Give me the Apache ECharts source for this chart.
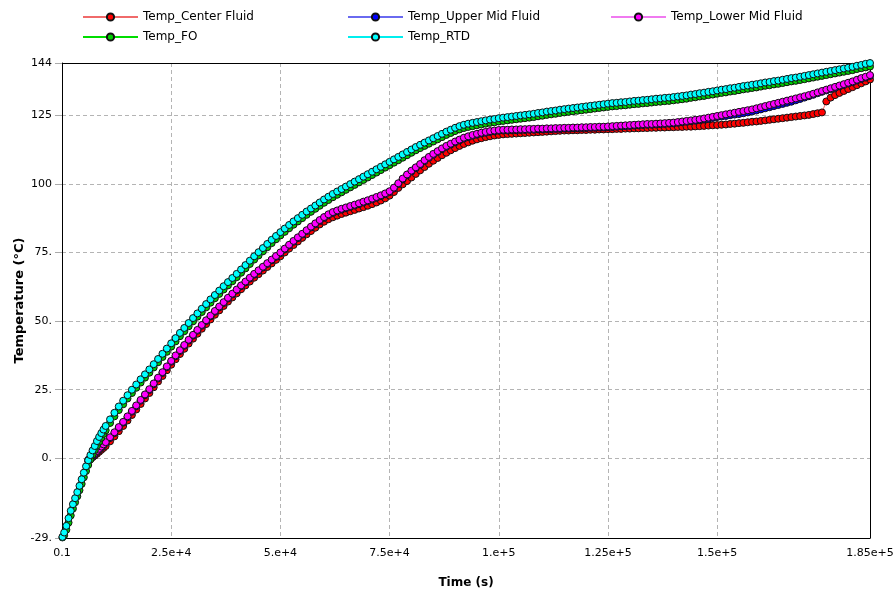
<!DOCTYPE html>
<html><head><meta charset="utf-8">
<script src="https://cdn.jsdelivr.net/npm/echarts@6/dist/echarts.min.js"></script>
<style>html,body{margin:0;padding:0;background:#fff}#c{width:896px;height:592px}</style>
</head><body><div id="c"></div>
<script>
const time = [100,500,1000,1500,2000,2500,3000,3500,4000,4500,5000,5500,6000,6500,7000,7500,8000,8500,9000,9500,10000,
11000,12000,13000,14000,15000,16000,17000,18000,19000,20000,
21000,22000,23000,24000,25000,26000,27000,28000,29000,30000,
31000,32000,33000,34000,35000,36000,37000,38000,39000,40000,
41000,42000,43000,44000,45000,46000,47000,48000,49000,50000,
51000,52000,53000,54000,55000,56000,57000,58000,59000,60000,
61000,62000,63000,64000,65000,66000,67000,68000,69000,70000,
71000,72000,73000,74000,75000,76000,77000,78000,79000,80000,
81000,82000,83000,84000,85000,86000,87000,88000,89000,90000,
91000,92000,93000,94000,95000,96000,97000,98000,99000,100000,
101000,102000,103000,104000,105000,106000,107000,108000,109000,110000,
111000,112000,113000,114000,115000,116000,117000,118000,119000,120000,
121000,122000,123000,124000,125000,126000,127000,128000,129000,130000,
131000,132000,133000,134000,135000,136000,137000,138000,139000,140000,
141000,142000,143000,144000,145000,146000,147000,148000,149000,150000,
151000,152000,153000,154000,155000,156000,157000,158000,159000,160000,
161000,162000,163000,164000,165000,166000,167000,168000,169000,170000,
171000,172000,173000,174000,175000,176000,177000,178000,179000,180000,
181000,182000,183000,184000,185000];

const tempCenterFluid = [null,null,null,null,null,null,null,null,null,null,null,null,-0.9,-0.3,0.4,1.0,1.7,2.4,3.1,3.8,4.5,
6.2,8.0,9.9,11.8,13.8,15.8,17.8,19.8,21.8,23.8,
25.9,28.0,30.0,32.1,34.1,36.1,38.0,39.9,41.8,43.6,
45.4,47.2,48.9,50.6,52.3,53.9,55.5,57.1,58.6,60.1,
61.6,63.0,64.4,65.8,67.1,68.4,69.7,71.0,72.3,73.6,
75.0,76.4,77.7,79.0,80.3,81.6,82.8,84.0,85.2,86.2,
87.1,87.8,88.4,89.0,89.5,90.0,90.5,91.0,91.5,92.0,
92.6,93.2,93.9,94.7,95.7,97.0,98.5,99.8,101.0,102.3,
103.6,104.9,106.1,107.3,108.4,109.4,110.4,111.3,112.2,113.0,
113.8,114.5,115.1,115.7,116.2,116.6,117.0,117.3,117.6,117.8,
118.0,118.1,118.2,118.3,118.4,118.5,118.6,118.7,118.8,118.9,
119.0,119.1,119.2,119.3,119.4,119.4,119.5,119.5,119.6,119.6,
119.7,119.7,119.8,119.8,119.9,119.9,120.0,120.0,120.1,120.1,
120.2,120.2,120.3,120.3,120.4,120.4,120.5,120.5,120.6,120.6,
120.7,120.7,120.8,120.8,120.9,121.0,121.1,121.2,121.3,121.4,
121.5,121.6,121.8,121.9,122.1,122.2,122.4,122.6,122.7,122.9,
123.1,123.3,123.5,123.7,123.9,124.1,124.3,124.5,124.7,124.9,
125.1,125.4,125.7,126.0,130.0,131.4,132.3,133.1,133.8,134.5,
135.2,135.9,136.6,137.3,138.0];

const tempUpperMidFluid = [null,null,null,null,null,null,null,null,null,null,null,null,-0.8,0.0,0.8,1.6,2.4,3.2,4.0,4.8,5.6,
7.4,9.2,11.1,13.0,15.0,17.0,19.0,21.0,23.0,24.9,
27.0,29.1,31.1,33.2,35.2,37.2,39.1,41.0,42.9,44.7,
46.5,48.3,50.0,51.7,53.4,55.0,56.6,58.2,59.7,61.2,
62.7,64.1,65.5,66.9,68.2,69.5,70.8,72.1,73.4,74.7,
76.1,77.5,78.9,80.2,81.5,82.8,84.1,85.3,86.5,87.6,
88.6,89.4,90.0,90.6,91.1,91.6,92.1,92.6,93.2,93.7,
94.3,94.9,95.5,96.2,97.0,98.3,99.9,101.6,103.1,104.5,
105.7,106.9,108.3,109.5,110.6,111.6,112.6,113.5,114.3,115.1,
115.8,116.5,117.0,117.5,117.9,118.3,118.6,118.9,119.1,119.3,
119.4,119.4,119.5,119.5,119.6,119.6,119.7,119.7,119.8,119.8,
119.9,119.9,120.0,120.0,120.1,120.1,120.2,120.2,120.3,120.3,
120.4,120.4,120.5,120.5,120.6,120.7,120.8,120.9,121.0,121.1,
121.2,121.3,121.4,121.5,121.5,121.6,121.7,121.8,121.9,122.0,
122.2,122.4,122.6,122.8,123.0,123.2,123.4,123.7,124.0,124.3,
124.5,124.7,125.0,125.2,125.4,125.7,126.0,126.3,126.7,127.1,
127.5,127.9,128.3,128.7,129.1,129.5,129.9,130.4,130.9,131.4,
131.9,132.4,133.0,133.5,134.0,134.5,135.0,135.5,136.0,136.5,
137.0,137.6,138.2,138.7,139.3];

const tempLowerMidFluid = [null,null,null,null,null,null,null,null,null,null,null,null,-0.5,0.3,1.1,1.9,2.7,3.5,4.3,5.1,5.9,
7.7,9.5,11.4,13.3,15.3,17.3,19.3,21.3,23.3,25.2,
27.3,29.4,31.4,33.5,35.5,37.5,39.4,41.3,43.2,45.0,
46.8,48.6,50.3,52.0,53.7,55.3,56.9,58.5,60.0,61.5,
63.0,64.4,65.8,67.2,68.5,69.8,71.1,72.4,73.7,75.0,
76.4,77.8,79.2,80.5,81.8,83.1,84.4,85.6,86.8,87.9,
88.9,89.7,90.3,90.9,91.4,91.9,92.4,92.9,93.5,94.0,
94.6,95.2,95.8,96.5,97.3,98.6,100.2,101.9,103.4,104.8,
106.0,107.2,108.6,109.8,110.9,111.9,112.9,113.8,114.6,115.4,
116.1,116.8,117.3,117.8,118.2,118.6,118.9,119.2,119.4,119.6,
119.7,119.7,119.8,119.8,119.9,119.9,120.0,120.0,120.1,120.1,
120.2,120.2,120.3,120.3,120.4,120.4,120.5,120.5,120.6,120.6,
120.7,120.7,120.8,120.8,120.9,121.0,121.1,121.2,121.3,121.4,
121.5,121.6,121.7,121.8,121.8,121.9,122.0,122.1,122.2,122.3,
122.5,122.7,122.9,123.1,123.3,123.5,123.8,124.1,124.4,124.7,
125.0,125.3,125.6,125.9,126.2,126.5,126.8,127.1,127.5,127.9,
128.3,128.7,129.1,129.5,129.9,130.3,130.7,131.1,131.5,131.9,
132.3,132.8,133.3,133.8,134.3,134.8,135.3,135.8,136.3,136.8,
137.3,137.9,138.5,139.0,139.6];

const tempFO = [-28.8,-28.0,-26.0,-23.4,-20.8,-18.3,-16.0,-13.8,-11.6,-9.3,-6.9,-4.6,-2.4,-0.4,1.4,3.0,4.6,6.1,7.5,8.9,10.2,
12.9,15.3,17.6,19.7,21.8,23.8,25.7,27.6,29.4,31.2,
33.1,35.0,36.9,38.8,40.7,42.6,44.5,46.3,48.1,49.9,
51.6,53.3,55.0,56.7,58.3,59.9,61.5,63.0,64.5,66.0,
67.6,69.2,70.8,72.4,73.9,75.4,76.9,78.4,79.8,81.2,
82.5,83.8,85.1,86.3,87.5,88.7,89.8,90.9,92.0,93.1,
94.1,95.1,96.0,96.9,97.8,98.7,99.6,100.5,101.4,102.3,
103.2,104.1,105.0,105.9,106.8,107.7,108.6,109.5,110.4,111.3,
112.2,113.0,113.8,114.6,115.4,116.2,117.0,117.8,118.5,119.2,
119.8,120.3,120.7,121.0,121.3,121.6,121.9,122.2,122.4,122.7,
122.9,123.1,123.3,123.5,123.7,123.9,124.1,124.3,124.6,124.8,
125.1,125.3,125.5,125.8,126.0,126.2,126.4,126.6,126.8,127.0,
127.2,127.4,127.6,127.8,128.0,128.2,128.3,128.5,128.6,128.8,
129.0,129.1,129.3,129.4,129.6,129.8,129.9,130.1,130.2,130.4,
130.6,130.8,131.0,131.3,131.5,131.8,132.0,132.3,132.5,132.8,
133.1,133.3,133.6,133.8,134.1,134.4,134.6,134.9,135.1,135.4,
135.7,135.9,136.2,136.4,136.7,137.0,137.3,137.5,137.8,138.1,
138.4,138.7,139.0,139.3,139.6,139.9,140.2,140.5,140.8,141.1,
141.4,141.8,142.1,142.4,142.7];

const tempRTD = [-28.6,-27.0,-24.6,-21.8,-19.1,-16.7,-14.5,-12.3,-10.0,-7.6,-5.2,-2.9,-0.7,1.2,2.9,4.5,6.3,7.8,9.2,10.5,11.8,
14.2,16.6,18.9,21.0,23.0,25.0,26.9,28.8,30.6,32.4,
34.3,36.2,38.1,40.0,41.9,43.8,45.7,47.5,49.3,51.1,
52.8,54.5,56.2,57.9,59.5,61.1,62.7,64.2,65.7,67.2,
68.8,70.4,72.0,73.6,75.1,76.6,78.1,79.6,81.0,82.4,
83.7,85.0,86.3,87.5,88.7,89.9,91.0,92.1,93.2,94.3,
95.3,96.3,97.2,98.1,99.0,99.9,100.8,101.7,102.6,103.5,
104.4,105.3,106.2,107.1,108.0,108.9,109.8,110.7,111.6,112.5,
113.4,114.2,115.0,115.8,116.6,117.4,118.2,119.0,119.7,120.4,
121.0,121.5,121.9,122.2,122.5,122.8,123.1,123.4,123.6,123.9,
124.1,124.3,124.5,124.7,124.9,125.1,125.3,125.5,125.8,126.0,
126.3,126.5,126.7,127.0,127.2,127.4,127.6,127.8,128.0,128.2,
128.4,128.6,128.8,129.0,129.2,129.4,129.5,129.7,129.8,130.0,
130.2,130.3,130.5,130.6,130.8,131.0,131.1,131.3,131.4,131.6,
131.8,132.0,132.2,132.5,132.7,133.0,133.2,133.5,133.7,134.0,
134.3,134.5,134.8,135.0,135.3,135.6,135.8,136.1,136.3,136.6,
136.9,137.1,137.4,137.6,137.9,138.2,138.5,138.7,139.0,139.3,
139.6,139.9,140.2,140.5,140.8,141.1,141.4,141.7,142.0,142.3,
142.6,143.0,143.3,143.7,144.0];

const seriesNames = ['Temp_Center Fluid','Temp_Upper Mid Fluid','Temp_Lower Mid Fluid','Temp_FO','Temp_RTD'];
const xTickValues = [0.1, 25000, 50000, 75000, 100000, 125000, 150000, 185000];
const xTickLabels = ['0.1','2.5e+4','5.e+4','7.5e+4','1.e+5','1.25e+5','1.5e+5','1.85e+5'];
const yTickValues = [-29, 0, 25, 50, 75, 100, 125, 144];
const yTickLabels = ['-29.','0.','25.','50.','75.','100','125','144'];

const seriesValues = [tempCenterFluid, tempUpperMidFluid, tempLowerMidFluid, tempFO, tempRTD];
const markerColors = ['#ff0000','#0000ff','#ff00ff','#00cc00','#00ffff'];
const lineColors = ['#f06a6a','#6a6af0','#f07af0','#00dd00','#00eeee'];
const FONT = 'DejaVu Sans';
const X_MIN = 0.1, X_MAX = 185000, Y_MIN = -29, Y_MAX = 144;

const chart = echarts.init(document.getElementById('c'), null, {renderer:'canvas'});

const series = seriesNames.map((name, k) => ({
  name: name,
  type: 'line',
  xAxisIndex: 0, yAxisIndex: 0,
  data: time.map((t, i) => [t, seriesValues[k][i]]),
  symbol: 'circle',
  symbolSize: 7,
  clip: false,
  lineStyle: {color: lineColors[k], width: 1},
  itemStyle: {color: markerColors[k], borderColor: '#111', borderWidth: 1},
  emphasis: {disabled: true}
}));

const legendPos = [[82,11],[347,11],[610,11],[82,31],[347,31]];
const legends = seriesNames.map((name, k) => ({
  data: [{name: name}],
  left: legendPos[k][0], top: legendPos[k][1],
  padding: 0,
  itemWidth: 55, itemHeight: 9,
  selectedMode: false,
  lineStyle: {width: 2, color: lineColors[k]},
  textStyle: {fontFamily: FONT, fontSize: 12, color: '#000'}
}));

const frameAxis = {
  axisLine: {show: true, onZero: false, lineStyle: {color: '#000', width: 1}},
  axisTick: {show: false}, axisLabel: {show: false}, splitLine: {show: false}
};

chart.setOption({
  animation: false,
  backgroundColor: '#fff',
  grid: {left: 62, right: 26, top: 63, bottom: 54, show: false, containLabel: false, outerBoundsMode: 'none'},
  legend: legends,
  xAxis: [{
    type: 'value', min: X_MIN, max: X_MAX, position: 'bottom',
    name: 'Time (s)', nameLocation: 'middle', nameGap: 39, nameMoveOverlap: false,
    nameTextStyle: {fontFamily: FONT, fontSize: 12, fontWeight: 'bold', color: '#000'},
    axisLine: {show: true, onZero: false, lineStyle: {color: '#000', width: 1}},
    axisTick: {show: false, customValues: xTickValues},
    axisLabel: {customValues: xTickValues, margin: 10, fontFamily: FONT, fontSize: 11, color: '#000',
      formatter: v => { const i = xTickValues.indexOf(v); return i >= 0 ? xTickLabels[i] : ''; }},
    splitLine: {show: true, lineStyle: {color: '#b4b4b4', type: [4,3], width: 1}}
  }, Object.assign({type: 'value', min: X_MIN, max: X_MAX, position: 'top'}, frameAxis)],
  yAxis: [{
    type: 'value', min: Y_MIN, max: Y_MAX, position: 'left',
    name: 'Temperature (°C)', nameLocation: 'middle', nameGap: 36, nameMoveOverlap: false,
    nameTextStyle: {fontFamily: FONT, fontSize: 13, fontWeight: 'bold', color: '#000'},
    axisLine: {show: true, onZero: false, lineStyle: {color: '#000', width: 1}},
    axisTick: {show: true, length: 7, customValues: yTickValues, lineStyle: {color: '#aaa'}},
    axisLabel: {customValues: yTickValues, margin: 10, fontFamily: FONT, fontSize: 11, color: '#000',
      formatter: v => { const i = yTickValues.indexOf(v); return i >= 0 ? yTickLabels[i] : ''; }},
    splitLine: {show: true, lineStyle: {color: '#b4b4b4', type: [4,3], width: 1}}
  }, Object.assign({type: 'value', min: Y_MIN, max: Y_MAX, position: 'right'}, frameAxis)],
  series: series
});
</script>
</body></html>
